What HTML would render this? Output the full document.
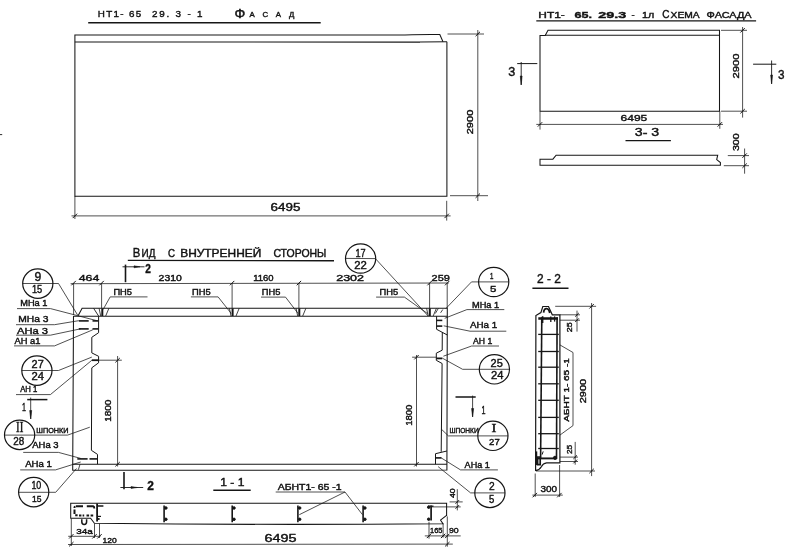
<!DOCTYPE html>
<html lang="ru"><head><meta charset="utf-8"><title>НТ1-65.29.3-1</title>
<style>
html,body{margin:0;padding:0;background:#fff;}
body{width:793px;height:552px;overflow:hidden;}
svg{display:block;filter:grayscale(1);}
svg line,svg path,svg circle,svg ellipse{stroke:#161616;stroke-linecap:butt;}
svg text{font-family:"Liberation Sans","DejaVu Sans",sans-serif;fill:#111;stroke:#111;stroke-width:0.4;}
.sc{font-variant:small-caps;}
.uc{text-transform:uppercase;}
svg text.sf{font-family:"Liberation Serif","DejaVu Serif",serif;}
</style></head><body>
<svg width="793" height="552" viewBox="0 0 793 552">
<rect x="0" y="0" width="793" height="552" fill="#ffffff" stroke="none"/>
<g id="facade">
<text x="97.8" y="16.9" font-size="9.8" textLength="43.4" lengthAdjust="spacing" >НТ1- 65</text>
<text x="152" y="16.9" font-size="9.8" textLength="50.5" lengthAdjust="spacing" >29. 3 - 1</text>
<text x="234.5" y="17.6" font-size="12" textLength="10.8" lengthAdjust="spacingAndGlyphs" >Ф</text>
<text x="249.6" y="16.8" font-size="7.8" textLength="44.8" lengthAdjust="spacing" class="uc">асад</text>
<line x1="88.2" y1="22.7" x2="320.7" y2="22.7" stroke-width="1.4"/>
<path d="M74.9 196.8 L74.9 34.9 L405 34.9 Q428 34.3 439.8 34.6 L443 41.7" stroke-width="1.05" fill="none" />
<path d="M74.9 42 L420 42.1 Q435 41.7 446.9 41.7" stroke-width="1.05" fill="none" />
<path d="M446.9 41.7 L446.9 196.3 L74.9 196.3" stroke-width="1.05" fill="none"/>
<line x1="74.9" y1="196.3" x2="74.9" y2="219" stroke-width="0.75"/>
<line x1="446.7" y1="200.8" x2="446.7" y2="220.6" stroke-width="0.75"/>
<line x1="71.5" y1="215.9" x2="450.6" y2="215.9" stroke-width="0.75"/>
<line x1="72.7" y1="218.1" x2="77.10000000000001" y2="213.70000000000002" stroke-width="1.0"/>
<line x1="444.5" y1="218.1" x2="448.9" y2="213.70000000000002" stroke-width="1.0"/>
<text x="270.6" y="211" font-size="10.4" textLength="29.8" lengthAdjust="spacingAndGlyphs" >6495</text>
<line x1="447.5" y1="34" x2="484" y2="34" stroke-width="0.75"/>
<line x1="450" y1="195.7" x2="488" y2="195.7" stroke-width="0.75"/>
<line x1="477.8" y1="30" x2="477.8" y2="201" stroke-width="0.75"/>
<line x1="475.6" y1="36.2" x2="480.0" y2="31.8" stroke-width="1.0"/>
<line x1="475.6" y1="197.89999999999998" x2="480.0" y2="193.5" stroke-width="1.0"/>
<text transform="translate(472.6 122) rotate(-90)" text-anchor="middle" font-size="8.8" textLength="24.6" lengthAdjust="spacingAndGlyphs">2900</text>
</g>
<g id="schema">
<text x="538.3" y="17.8" font-size="9.4" textLength="26.5" lengthAdjust="spacingAndGlyphs" >НТ1-</text>
<text x="574.5" y="17.8" font-size="9.6" textLength="17.5" lengthAdjust="spacingAndGlyphs" font-weight="bold" >65.</text>
<text x="598.3" y="17.8" font-size="9.6" textLength="28" lengthAdjust="spacingAndGlyphs" font-weight="bold" >29.3</text>
<text x="631.5" y="17.8" font-size="9.4" >-</text>
<text x="642" y="17.8" font-size="9.4" textLength="12.2" lengthAdjust="spacingAndGlyphs" >1л</text>
<text x="662.3" y="17.8" font-size="10" textLength="7.2" lengthAdjust="spacingAndGlyphs" >С</text>
<text x="670.6" y="17.8" font-size="8.8" textLength="29" lengthAdjust="spacingAndGlyphs" class="uc">хема</text>
<text x="706.6" y="17.8" font-size="8.8" textLength="45" lengthAdjust="spacingAndGlyphs" class="uc">фасада</text>
<line x1="536.3" y1="20.8" x2="756.1" y2="20.8" stroke-width="1.3"/>
<path d="M540 111.4 L540 35.6 L545.2 35.4 L548 30.3 L719.5 30.3 L719.5 111.2 L540 111.2" stroke-width="1.05" fill="none" />
<line x1="545" y1="35.3" x2="719.5" y2="35.3" stroke-width="1.05"/>
<line x1="517.2" y1="63.6" x2="537.3" y2="63.6" stroke-width="1.0"/>
<line x1="521.2" y1="62" x2="521.2" y2="84.7" stroke-width="0.9"/>
<path d="M520.3 76 L522.1 76 L521.2 85 Z" stroke-width="0.6" fill="#161616" />
<text x="508.3" y="76.3" font-size="12.2" textLength="7" lengthAdjust="spacingAndGlyphs" >3</text>
<line x1="753.1" y1="64.2" x2="776.3" y2="64.2" stroke-width="1.0"/>
<line x1="771.6" y1="60.5" x2="771.6" y2="83.7" stroke-width="0.9"/>
<path d="M770.7 75 L772.5 75 L771.6 84 Z" stroke-width="0.6" fill="#161616" />
<text x="778" y="78.7" font-size="12.6" textLength="6.5" lengthAdjust="spacingAndGlyphs" >3</text>
<line x1="540" y1="111.2" x2="540" y2="129.6" stroke-width="0.75"/>
<line x1="719.8" y1="111.2" x2="719.8" y2="128.8" stroke-width="0.75"/>
<line x1="536.3" y1="124.4" x2="723" y2="124.4" stroke-width="0.75"/>
<line x1="537.8" y1="126.60000000000001" x2="542.2" y2="122.2" stroke-width="1.0"/>
<line x1="717.5999999999999" y1="126.60000000000001" x2="722.0" y2="122.2" stroke-width="1.0"/>
<text x="620.5" y="121.1" font-size="9.2" textLength="26.8" lengthAdjust="spacingAndGlyphs" >6495</text>
<line x1="721" y1="30.3" x2="747" y2="30.3" stroke-width="0.75"/>
<line x1="721" y1="111.2" x2="747" y2="111.2" stroke-width="0.75"/>
<line x1="742.6" y1="27" x2="742.6" y2="117.6" stroke-width="0.75"/>
<line x1="740.4" y1="32.5" x2="744.8000000000001" y2="28.1" stroke-width="1.0"/>
<line x1="740.4" y1="113.4" x2="744.8000000000001" y2="109.0" stroke-width="1.0"/>
<text transform="translate(738.9 66) rotate(-90)" text-anchor="middle" font-size="9.6" textLength="25.2" lengthAdjust="spacingAndGlyphs">2900</text>
<text x="634.8" y="136.2" font-size="11.2" textLength="24.4" lengthAdjust="spacingAndGlyphs" >3- 3</text>
<line x1="625.5" y1="140.6" x2="670.9" y2="140.6" stroke-width="1.4"/>
<path d="M540 159.2 L552.9 159.2 L556.1 155.2 L717.7 155.2 L716.7 159.6 L720.4 162.6 L720.4 165.3 L540 165.3 Z" stroke-width="1.05" fill="none" />
<line x1="727.8" y1="155.6" x2="749" y2="155.6" stroke-width="0.75"/>
<line x1="723.8" y1="165.7" x2="749" y2="165.7" stroke-width="0.75"/>
<line x1="744.6" y1="148.5" x2="744.6" y2="173.7" stroke-width="0.75"/>
<line x1="742.4" y1="157.79999999999998" x2="746.8000000000001" y2="153.4" stroke-width="1.0"/>
<line x1="742.4" y1="167.89999999999998" x2="746.8000000000001" y2="163.5" stroke-width="1.0"/>
<text transform="translate(738.7 142.2) rotate(-90)" text-anchor="middle" font-size="9.2" textLength="17.6" lengthAdjust="spacingAndGlyphs">300</text>
</g>
<line x1="0" y1="134.6" x2="2.2" y2="134.6" stroke-width="0.9"/>
<g id="view">
<text x="132.7" y="257.2" font-size="12.8" textLength="7.6" lengthAdjust="spacingAndGlyphs" >В</text>
<text x="141.6" y="257.2" font-size="10.6" textLength="13.8" lengthAdjust="spacingAndGlyphs" class="uc">ид</text>
<text x="168.1" y="257.2" font-size="10.6" textLength="7" lengthAdjust="spacingAndGlyphs" class="uc">с</text>
<text x="180.2" y="257.2" font-size="10.6" textLength="81.1" lengthAdjust="spacingAndGlyphs" class="uc">внутренней</text>
<text x="273.4" y="257.2" font-size="10.6" textLength="53" lengthAdjust="spacingAndGlyphs" class="uc">стороны</text>
<line x1="127.8" y1="260.4" x2="334" y2="260.7" stroke-width="1.4"/>
<line x1="70.6" y1="283.7" x2="448.8" y2="283" stroke-width="0.75"/>
<line x1="71.39999999999999" y1="285.3" x2="75.8" y2="280.90000000000003" stroke-width="1.0"/>
<line x1="99.39999999999999" y1="285.3" x2="103.8" y2="280.90000000000003" stroke-width="1.0"/>
<line x1="229.9" y1="285.3" x2="234.29999999999998" y2="280.90000000000003" stroke-width="1.0"/>
<line x1="296.7" y1="285.3" x2="301.09999999999997" y2="280.90000000000003" stroke-width="1.0"/>
<line x1="427.40000000000003" y1="285.3" x2="431.8" y2="280.90000000000003" stroke-width="1.0"/>
<line x1="445.0" y1="285.3" x2="449.4" y2="280.90000000000003" stroke-width="1.0"/>
<line x1="73.6" y1="283.1" x2="73.6" y2="315" stroke-width="0.75"/>
<line x1="101.6" y1="283.1" x2="101.6" y2="308" stroke-width="0.75"/>
<line x1="232.1" y1="283.1" x2="232.1" y2="308" stroke-width="0.75"/>
<line x1="298.9" y1="283.1" x2="298.9" y2="308" stroke-width="0.75"/>
<line x1="429.6" y1="283.1" x2="429.6" y2="308" stroke-width="0.75"/>
<line x1="447.2" y1="283.1" x2="447.2" y2="308" stroke-width="0.75"/>
<text x="78.7" y="281.4" font-size="8.6" textLength="20.6" lengthAdjust="spacingAndGlyphs" >464</text>
<text x="158.6" y="280.8" font-size="8.6" textLength="23.2" lengthAdjust="spacingAndGlyphs" >2310</text>
<text x="253.2" y="281.3" font-size="8.6" textLength="20.4" lengthAdjust="spacingAndGlyphs" >1160</text>
<text x="336.2" y="281.2" font-size="8.6" textLength="27.8" lengthAdjust="spacingAndGlyphs" >2302</text>
<text x="431.6" y="281.0" font-size="8.6" textLength="18.2" lengthAdjust="spacingAndGlyphs" >259</text>
<path d="M78.1 315.8 L82.1 308.2 L447.3 308.2 L446.9 470.1 L72.7 470.2 L73.5 316" stroke-width="1.05" fill="none" />
<line x1="73.5" y1="316.2" x2="447.3" y2="316.2" stroke-width="1.05"/>
<line x1="72.8" y1="464.2" x2="446.9" y2="464.2" stroke-width="1.05"/>
<path d="M98.6 316.2 L98.6 332.7 L91.8 337.3 L91.8 352.9 L98.6 356.3 L98.6 362.8 L91.8 367.8 L91.4 450.3 L97.5 454.4 L97.5 464.2" stroke-width="1.0" fill="none" />
<line x1="80" y1="464.3" x2="78.4" y2="469.7" stroke-width="0.8"/>
<path d="M436.6 316.2 L436.6 329.3 L447.3 335" stroke-width="1.0" fill="none" />
<path d="M442.3 332.3 L442.2 350.2 L436.3 353.2 L436.3 360.3 L442.1 363.5 L441.2 451.8" stroke-width="1.0" fill="none" />
<path d="M446.9 451 L435.5 453.7 L435.5 464.2" stroke-width="1.0" fill="none" />
<line x1="78.8" y1="320.9" x2="88.7" y2="320.9" stroke-width="1.6"/>
<line x1="92.5" y1="320.9" x2="98.2" y2="320.9" stroke-width="1.6"/>
<line x1="78.8" y1="328.9" x2="88.7" y2="328.9" stroke-width="1.6"/>
<line x1="92.5" y1="328.9" x2="98.2" y2="328.9" stroke-width="1.6"/>
<line x1="91.8" y1="360.2" x2="98.8" y2="360.2" stroke-width="1.8"/>
<line x1="77.3" y1="458.9" x2="87.6" y2="458.9" stroke-width="1.6"/>
<line x1="89.5" y1="458.9" x2="97.3" y2="458.9" stroke-width="1.6"/>
<line x1="436.6" y1="320.4" x2="442.3" y2="320.4" stroke-width="1.6"/>
<line x1="436.6" y1="326.1" x2="442.3" y2="326.1" stroke-width="1.6"/>
<line x1="436.3" y1="358.4" x2="442.3" y2="358.4" stroke-width="1.8"/>
<line x1="435.5" y1="457.9" x2="441.4" y2="457.9" stroke-width="1.6"/>
<line x1="102.3" y1="308.3" x2="102.3" y2="316" stroke-width="2.0"/>
<line x1="99.1" y1="308.3" x2="100.7" y2="316" stroke-width="0.8"/>
<line x1="108.89999999999999" y1="308.3" x2="105.7" y2="316" stroke-width="0.8"/>
<line x1="232.6" y1="308.3" x2="232.6" y2="316" stroke-width="2.0"/>
<line x1="229.4" y1="308.3" x2="231.0" y2="316" stroke-width="0.8"/>
<line x1="239.2" y1="308.3" x2="236.0" y2="316" stroke-width="0.8"/>
<line x1="299.3" y1="308.3" x2="299.3" y2="316" stroke-width="2.0"/>
<line x1="296.1" y1="308.3" x2="297.7" y2="316" stroke-width="0.8"/>
<line x1="305.90000000000003" y1="308.3" x2="302.7" y2="316" stroke-width="0.8"/>
<line x1="429.8" y1="308.3" x2="429.8" y2="316" stroke-width="2.0"/>
<line x1="426.6" y1="308.3" x2="428.2" y2="316" stroke-width="0.8"/>
<line x1="436.40000000000003" y1="308.3" x2="433.2" y2="316" stroke-width="0.8"/>
<line x1="93.6" y1="308.3" x2="98.6" y2="316" stroke-width="0.9"/>
<line x1="438.4" y1="308.3" x2="435.3" y2="313.5" stroke-width="0.8"/>
<line x1="442.8" y1="309.5" x2="440.6" y2="312.8" stroke-width="0.8"/>
<text x="113.4" y="295.3" font-size="8.2" textLength="18.6" lengthAdjust="spacingAndGlyphs" >ПН5</text>
<text x="192" y="295.3" font-size="8.2" textLength="18.6" lengthAdjust="spacingAndGlyphs" >ПН5</text>
<text x="261.8" y="295.3" font-size="8.2" textLength="18.6" lengthAdjust="spacingAndGlyphs" >ПН5</text>
<text x="379.6" y="295.3" font-size="8.2" textLength="18.6" lengthAdjust="spacingAndGlyphs" >ПН5</text>
<path d="M147.5 296.9 L110.2 296.9 L103.1 309.5" stroke-width="0.75" fill="none" />
<path d="M190.9 296.9 L218.1 296.9 L231.2 313.4" stroke-width="0.75" fill="none" />
<path d="M261 297.1 L285.5 297.1 L298 313.4" stroke-width="0.75" fill="none" />
<path d="M376.1 297.1 L404.4 297.1 L427.6 313.6" stroke-width="0.75" fill="none" />
<line x1="98.8" y1="360.2" x2="121.8" y2="360.2" stroke-width="0.75"/>
<line x1="117.6" y1="356" x2="117.6" y2="466.5" stroke-width="0.75"/>
<line x1="115.39999999999999" y1="362.4" x2="119.8" y2="358.0" stroke-width="1.0"/>
<line x1="115.39999999999999" y1="466.4" x2="119.8" y2="462.0" stroke-width="1.0"/>
<text transform="translate(111 410.7) rotate(-90)" text-anchor="middle" font-size="8.8" textLength="22.2" lengthAdjust="spacingAndGlyphs">1800</text>
<line x1="412.1" y1="357.2" x2="436.3" y2="357.2" stroke-width="0.75"/>
<line x1="416.5" y1="355" x2="416.5" y2="466.5" stroke-width="0.75"/>
<line x1="414.3" y1="359.4" x2="418.7" y2="355.0" stroke-width="1.0"/>
<line x1="414.3" y1="466.4" x2="418.7" y2="462.0" stroke-width="1.0"/>
<text transform="translate(412.1 415.2) rotate(-90)" text-anchor="middle" font-size="8.8" textLength="21.2" lengthAdjust="spacingAndGlyphs">1800</text>
</g>
<g id="callouts">
<ellipse cx="37.8" cy="283.6" rx="15.1" ry="14.7" stroke-width="1.2" fill="none"/>
<text x="34.6" y="281.4" font-size="12.7" textLength="6.8" lengthAdjust="spacingAndGlyphs" >9</text>
<text x="31.9" y="293" font-size="10.3" textLength="10.3" lengthAdjust="spacingAndGlyphs" >15</text>
<path d="M22.7 283.5 L58.5 283.5 L77.7 315.2" stroke-width="0.75" fill="none" />
<ellipse cx="36.9" cy="370.6" rx="15.1" ry="14.7" stroke-width="1.2" fill="none"/>
<text x="31.6" y="367.9" font-size="10.6" textLength="12.1" lengthAdjust="spacingAndGlyphs" >27</text>
<text x="31.6" y="380.4" font-size="10.1" textLength="12.5" lengthAdjust="spacingAndGlyphs" >24</text>
<path d="M21.8 370.5 L58.5 370.5 L91.8 357.1" stroke-width="0.75" fill="none" />
<ellipse cx="19.6" cy="434.9" rx="15.1" ry="14.7" stroke-width="1.2" fill="none"/>
<text x="16.1" y="432.1" font-size="15.1" textLength="7.3" lengthAdjust="spacingAndGlyphs" class="sf">II</text>
<text x="13.3" y="445" font-size="11.2" textLength="11.0" lengthAdjust="spacingAndGlyphs" >28</text>
<path d="M4.4 435.1 L67.6 435.1 L89.8 427.2" stroke-width="0.75" fill="none" />
<ellipse cx="33.7" cy="492.1" rx="15.1" ry="14.7" stroke-width="1.2" fill="none"/>
<text x="31.4" y="488.9" font-size="10.6" textLength="9.9" lengthAdjust="spacingAndGlyphs" >10</text>
<text x="32.1" y="501.8" font-size="9.5" textLength="9.5" lengthAdjust="spacingAndGlyphs" >15</text>
<path d="M18.5 492.3 L55.7 492.3 L76.5 468.5" stroke-width="0.75" fill="none" />
<ellipse cx="360.6" cy="258.5" rx="15.1" ry="14.7" stroke-width="1.2" fill="none"/>
<text x="355.5" y="256.6" font-size="10.6" textLength="10.2" lengthAdjust="spacingAndGlyphs" >17</text>
<text x="354.3" y="268.8" font-size="10.1" textLength="12.6" lengthAdjust="spacingAndGlyphs" >22</text>
<path d="M345.5 258.4 L375.4 258.6 L428.2 316" stroke-width="0.75" fill="none" />
<ellipse cx="493.7" cy="282" rx="15.1" ry="14.7" stroke-width="1.2" fill="none"/>
<text x="489.9" y="279.1" font-size="9.1" textLength="3.4" lengthAdjust="spacingAndGlyphs" >1</text>
<text x="489.9" y="291.7" font-size="9.6" textLength="6.4" lengthAdjust="spacingAndGlyphs" >5</text>
<path d="M508.8 281.9 L471.5 281.9 L445.8 308.6" stroke-width="0.75" fill="none" />
<ellipse cx="494.4" cy="369.3" rx="15.1" ry="14.7" stroke-width="1.2" fill="none"/>
<text x="490.6" y="366.6" font-size="11.2" textLength="12.2" lengthAdjust="spacingAndGlyphs" >25</text>
<text x="491" y="379.2" font-size="10.6" textLength="12.5" lengthAdjust="spacingAndGlyphs" >24</text>
<path d="M509.5 369.3 L462.6 369.3 L442.4 358.2" stroke-width="0.75" fill="none" />
<ellipse cx="492.9" cy="435.8" rx="15.1" ry="14.7" stroke-width="1.2" fill="none"/>
<text x="491.6" y="432.1" font-size="11.6" textLength="4.9" lengthAdjust="spacingAndGlyphs" class="sf">I</text>
<text x="489.1" y="445" font-size="9.5" textLength="10.6" lengthAdjust="spacingAndGlyphs" >27</text>
<path d="M508 435.9 L448.4 435.9 L441.4 429.2" stroke-width="0.75" fill="none" />
<ellipse cx="489.9" cy="492.9" rx="15.1" ry="14.7" stroke-width="1.2" fill="none"/>
<text x="488.9" y="490.4" font-size="11.7" textLength="5.7" lengthAdjust="spacingAndGlyphs" >2</text>
<text x="488.9" y="502.6" font-size="10.2" textLength="5.3" lengthAdjust="spacingAndGlyphs" >5</text>
<path d="M505 492.9 L470.6 492.9 L438.1 466.6" stroke-width="0.75" fill="none" />
<text x="20.2" y="306.2" font-size="8.6" textLength="27.2" lengthAdjust="spacingAndGlyphs" >МНа 1</text>
<path d="M17 308.6 L50.5 308.6 L96.9 320.7" stroke-width="0.75" fill="none" />
<text x="18.2" y="322.3" font-size="8.6" textLength="30.2" lengthAdjust="spacingAndGlyphs" >МНа 3</text>
<path d="M16 324.7 L54.5 324.7 L78.7 320.7" stroke-width="0.75" fill="none" />
<text x="17" y="333.8" font-size="8.6" textLength="31" lengthAdjust="spacingAndGlyphs" >АНа 3</text>
<path d="M16 335.2 L50.4 335.2 L80.7 328.8" stroke-width="0.75" fill="none" />
<text x="14.5" y="343.9" font-size="8.6" textLength="25.9" lengthAdjust="spacingAndGlyphs" >АН а1</text>
<path d="M14 345.9 L54.5 345.9 L92.8 329.8" stroke-width="0.75" fill="none" />
<text x="20.2" y="392" font-size="8.2" textLength="17.1" lengthAdjust="spacingAndGlyphs" >АН 1</text>
<path d="M16 394.6 L50.4 394.6 L91.8 360.3" stroke-width="0.75" fill="none" />
<text x="36.3" y="432.6" font-size="7.4" textLength="32.3" lengthAdjust="spacingAndGlyphs" class="uc">шпонки</text>
<text x="32.3" y="448.3" font-size="8.2" textLength="26.2" lengthAdjust="spacingAndGlyphs" >АНа 3</text>
<path d="M23.2 452.4 L58.5 452.4 L80.7 458.4" stroke-width="0.75" fill="none" />
<text x="25.2" y="466.5" font-size="8.6" textLength="26.8" lengthAdjust="spacingAndGlyphs" >АНа 1</text>
<path d="M20.2 469.9 L55.5 469.9 L80.7 462" stroke-width="0.75" fill="none" />
<text x="472" y="307.6" font-size="8.6" textLength="27.2" lengthAdjust="spacingAndGlyphs" >МНа 1</text>
<path d="M504.3 309.6 L466.9 309.6 L444.7 318.3" stroke-width="0.75" fill="none" />
<text x="470" y="328.4" font-size="8.8" textLength="27.2" lengthAdjust="spacingAndGlyphs" >АНа 1</text>
<path d="M506.3 331.2 L470 331.2 L443.7 325.8" stroke-width="0.75" fill="none" />
<text x="473" y="343.9" font-size="8.4" textLength="19.2" lengthAdjust="spacingAndGlyphs" >АН 1</text>
<path d="M499 346 L471.6 346 L443.4 356.2" stroke-width="0.75" fill="none" />
<text x="449.4" y="433.4" font-size="7.4" textLength="29.3" lengthAdjust="spacingAndGlyphs" class="uc">шпонки</text>
<text x="464.6" y="467.5" font-size="8.6" textLength="25.2" lengthAdjust="spacingAndGlyphs" >АНа 1</text>
<path d="M497.9 469.9 L460.5 469.9 L440.4 457.4" stroke-width="0.75" fill="none" />
<line x1="125.5" y1="264.6" x2="125.5" y2="282.2" stroke-width="1.6"/>
<line x1="122.5" y1="266.8" x2="144.5" y2="266.8" stroke-width="0.9"/>
<path d="M134 265.8 L140 266.8 L134 267.8 Z" stroke-width="0.5" fill="#161616" />
<text x="145.2" y="272.7" font-size="12.5" textLength="5.6" lengthAdjust="spacingAndGlyphs" font-weight="bold" >2</text>
<line x1="124" y1="472" x2="124" y2="489.3" stroke-width="1.6"/>
<line x1="120.4" y1="487.5" x2="143.2" y2="487.5" stroke-width="0.9"/>
<path d="M131 486.5 L137.5 487.5 L131 488.5 Z" stroke-width="0.5" fill="#161616" />
<text x="147.3" y="489.7" font-size="12.5" textLength="6.6" lengthAdjust="spacingAndGlyphs" font-weight="bold" >2</text>
<line x1="27.2" y1="399.6" x2="47.4" y2="399.6" stroke-width="1.5"/>
<line x1="30.7" y1="397.6" x2="30.7" y2="418.8" stroke-width="0.8"/>
<path d="M29.7 410.5 L31.7 410.5 L30.7 419 Z" stroke-width="0.6" fill="#161616" />
<text x="22" y="410.7" font-size="11" textLength="4" lengthAdjust="spacingAndGlyphs" >1</text>
<line x1="455.5" y1="397" x2="475.7" y2="397" stroke-width="1.5"/>
<line x1="472.6" y1="395.6" x2="472.6" y2="416.8" stroke-width="0.8"/>
<path d="M471.6 408.5 L473.6 408.5 L472.6 417 Z" stroke-width="0.6" fill="#161616" />
<text x="481.4" y="413.7" font-size="11" textLength="4" lengthAdjust="spacingAndGlyphs" >1</text>
</g>
<g id="s11">
<text x="220.2" y="486.4" font-size="11" textLength="24.2" lengthAdjust="spacingAndGlyphs" >1 - 1</text>
<line x1="213.3" y1="490.3" x2="250.7" y2="490.3" stroke-width="1.5"/>
<text x="277.7" y="489.7" font-size="8.2" textLength="63.8" lengthAdjust="spacingAndGlyphs" >АБНТ1- 65 -1</text>
<path d="M275.7 492 L345 492 L299.3 514.7" stroke-width="0.75" fill="none" />
<line x1="345" y1="492" x2="362.5" y2="514.7" stroke-width="0.75"/>
<path d="M446.6 516 L446.6 503.3 L70.7 503.3 L70.7 518.3 L90.6 518.3 L94.4 523.2 Q270 525.3 443 523.7 L440.5 520 L446.6 515.4" stroke-width="1.05" fill="none" />
<path d="M75.5 506.4 Q74.4 506.6 74.4 508 M76 506.3 h7 M86.8 506.3 h6.4 Q94.3 506.5 94.3 508.4 M74.5 509.5 v4.6 M75.2 515.2 h2.4 M79 515.4 h2.4 M82.6 515.4 h1.6 M86.5 515.4 h2.6 M90.6 515.4 h2.6" stroke-width="2.0" fill="none" />
<path d="M81.8 519.3 v2.5 a2.4 2.6 0 0 0 4.8 0 v-2.5" stroke-width="1.5" fill="none" />
<line x1="97.1" y1="503.4" x2="97.1" y2="521.4" stroke-width="1.8"/>
<line x1="97.1" y1="506" x2="103.4" y2="506" stroke-width="1.5"/>
<line x1="97.1" y1="516.4" x2="101" y2="516.4" stroke-width="1.2"/>
<line x1="97.1" y1="519" x2="99.6" y2="519" stroke-width="1.8"/>
<line x1="164.1" y1="505.5" x2="164.1" y2="522.3" stroke-width="1.6"/>
<circle cx="165.9" cy="508" r="1.25" fill="#161616" stroke="none"/>
<circle cx="165.9" cy="519.3" r="1.25" fill="#161616" stroke="none"/>
<line x1="232.2" y1="505.5" x2="232.2" y2="522.3" stroke-width="1.6"/>
<circle cx="234.0" cy="508" r="1.25" fill="#161616" stroke="none"/>
<circle cx="234.0" cy="519.3" r="1.25" fill="#161616" stroke="none"/>
<line x1="297.9" y1="505.5" x2="297.9" y2="522.3" stroke-width="1.6"/>
<circle cx="299.7" cy="508" r="1.25" fill="#161616" stroke="none"/>
<circle cx="299.7" cy="519.3" r="1.25" fill="#161616" stroke="none"/>
<line x1="363.1" y1="505.5" x2="363.1" y2="522.3" stroke-width="1.6"/>
<circle cx="364.90000000000003" cy="508" r="1.25" fill="#161616" stroke="none"/>
<circle cx="364.90000000000003" cy="519.3" r="1.25" fill="#161616" stroke="none"/>
<line x1="431.1" y1="505.6" x2="431.1" y2="520.6" stroke-width="1.7"/>
<line x1="428" y1="506.2" x2="433.5" y2="506.2" stroke-width="1.3"/>
<circle cx="428.7" cy="507.2" r="1.25" fill="#161616" stroke="none"/>
<circle cx="428.7" cy="519.2" r="1.25" fill="#161616" stroke="none"/>
<line x1="71.3" y1="518.5" x2="71.3" y2="546" stroke-width="0.75"/>
<line x1="94.5" y1="523.6" x2="94.5" y2="538" stroke-width="0.75"/>
<line x1="99.5" y1="523.6" x2="99.5" y2="538" stroke-width="0.75"/>
<line x1="68.2" y1="536.3" x2="100.5" y2="536.3" stroke-width="0.75"/>
<line x1="69.1" y1="538.5" x2="73.5" y2="534.0999999999999" stroke-width="1.0"/>
<line x1="92.3" y1="538.5" x2="96.7" y2="534.0999999999999" stroke-width="1.0"/>
<line x1="97.3" y1="538.5" x2="101.7" y2="534.0999999999999" stroke-width="1.0"/>
<text x="76.3" y="534.2" font-size="8" textLength="16.6" lengthAdjust="spacingAndGlyphs" >34а</text>
<text x="102.5" y="542.7" font-size="7.6" textLength="14.2" lengthAdjust="spacingAndGlyphs" >120</text>
<line x1="68" y1="544.5" x2="452.8" y2="544.1" stroke-width="0.75"/>
<line x1="69.1" y1="546.4000000000001" x2="73.5" y2="542.0" stroke-width="1.0"/>
<line x1="445.1" y1="546.4000000000001" x2="449.5" y2="542.0" stroke-width="1.0"/>
<text x="264.6" y="541.9" font-size="10" textLength="31.9" lengthAdjust="spacingAndGlyphs" >6495</text>
<line x1="429" y1="521.8" x2="429" y2="538.7" stroke-width="0.75"/>
<line x1="443.1" y1="523.6" x2="443.1" y2="537.6" stroke-width="0.75"/>
<line x1="447.3" y1="516.4" x2="447.3" y2="546.7" stroke-width="0.75"/>
<line x1="424.8" y1="535.9" x2="460.7" y2="535.9" stroke-width="0.75"/>
<line x1="426.8" y1="538.1" x2="431.2" y2="533.6999999999999" stroke-width="1.0"/>
<line x1="440.90000000000003" y1="538.1" x2="445.3" y2="533.6999999999999" stroke-width="1.0"/>
<line x1="445.1" y1="538.1" x2="449.5" y2="533.6999999999999" stroke-width="1.0"/>
<text x="430" y="533.3" font-size="7.8" textLength="12.4" lengthAdjust="spacingAndGlyphs" >165</text>
<text x="449" y="533.3" font-size="8" textLength="9.7" lengthAdjust="spacingAndGlyphs" >90</text>
<line x1="449.6" y1="501.9" x2="462.7" y2="501.9" stroke-width="0.75"/>
<line x1="431" y1="506.9" x2="460.7" y2="506.9" stroke-width="0.75"/>
<line x1="457.3" y1="489.2" x2="457.3" y2="510.4" stroke-width="0.75"/>
<line x1="455.5" y1="503.7" x2="459.1" y2="500.09999999999997" stroke-width="1.0"/>
<line x1="455.5" y1="508.7" x2="459.1" y2="505.09999999999997" stroke-width="1.0"/>
<text transform="translate(454.6 493.2) rotate(-90)" text-anchor="middle" font-size="8" textLength="9.6" lengthAdjust="spacingAndGlyphs">40</text>
</g>
<g id="s22">
<text x="537.1" y="283.1" font-size="12" textLength="23.8" lengthAdjust="spacingAndGlyphs" >2 - 2</text>
<line x1="532.4" y1="288.2" x2="568.5" y2="288.2" stroke-width="1.5"/>
<path d="M535.6 471 L535.9 315.6 L540.9 312.6 L542.8 306.5 L548.5 306.5 L552.3 314.8 L559.9 314.8 L559.9 462.8 L546.6 462.8 Q543 463.2 541.5 466.5 Q539.6 470 535.6 470.6" stroke-width="1.2" fill="none" />
<path d="M543.6 312.6 Q544 308.4 546.6 308.6 Q549 308.9 549.8 313" stroke-width="1.8" fill="none" />
<line x1="541.8" y1="317.3" x2="540.6" y2="459" stroke-width="1.6"/>
<line x1="557.1" y1="317.3" x2="556.5" y2="459" stroke-width="1.6"/>
<line x1="538.3" y1="318.5" x2="557.9" y2="318.5" stroke-width="2.5"/>
<line x1="542.6" y1="316.2" x2="542.6" y2="323" stroke-width="1.6"/>
<line x1="550.8" y1="316.4" x2="550.8" y2="322" stroke-width="1.3"/>
<line x1="554.6" y1="316.4" x2="554.6" y2="321.6" stroke-width="1.3"/>
<line x1="538.2" y1="334.4" x2="558.8" y2="334.4" stroke-width="1.3"/>
<line x1="538.2" y1="351.5" x2="558.8" y2="351.5" stroke-width="1.3"/>
<line x1="538.2" y1="367.2" x2="558.8" y2="367.2" stroke-width="1.3"/>
<line x1="538.2" y1="383.8" x2="558.8" y2="383.8" stroke-width="1.3"/>
<line x1="538.2" y1="400.3" x2="558.8" y2="400.3" stroke-width="1.3"/>
<line x1="538.2" y1="417.4" x2="558.8" y2="417.4" stroke-width="1.3"/>
<line x1="538.2" y1="433.7" x2="558.8" y2="433.7" stroke-width="1.3"/>
<line x1="538.2" y1="448.5" x2="558.8" y2="448.5" stroke-width="1.3"/>
<line x1="538" y1="458.4" x2="557" y2="458.4" stroke-width="1.9"/>
<path d="M537.6 457 h2.6 v7.6 h-2.6 Z" stroke-width="1.7" fill="none" />
<circle cx="555" cy="457.8" r="1.6" fill="#161616" stroke="none"/>
<line x1="536.3" y1="451.4" x2="536.3" y2="465" stroke-width="1.9"/>
<line x1="543.2" y1="451.4" x2="542.1" y2="454.6" stroke-width="1.0"/>
<path d="M559.9 344.9 L573 352.5 L573 425.6 L559.9 435.1" stroke-width="0.75" fill="none" />
<text transform="translate(569 390) rotate(-90)" text-anchor="middle" font-size="7.8" textLength="63.5" lengthAdjust="spacingAndGlyphs">АБНТ 1- 65 -1</text>
<line x1="555.2" y1="306.3" x2="596.1" y2="306.3" stroke-width="0.75"/>
<line x1="536" y1="471" x2="595" y2="471" stroke-width="0.75"/>
<line x1="591.6" y1="303" x2="591.6" y2="476.1" stroke-width="0.75"/>
<line x1="589.4" y1="308.5" x2="593.8000000000001" y2="304.1" stroke-width="1.0"/>
<line x1="589.4" y1="473.2" x2="593.8000000000001" y2="468.8" stroke-width="1.0"/>
<text transform="translate(586.2 391.1) rotate(-90)" text-anchor="middle" font-size="8.6" textLength="24.4" lengthAdjust="spacingAndGlyphs">2900</text>
<line x1="559.9" y1="314.8" x2="580" y2="314.8" stroke-width="0.75"/>
<line x1="559.9" y1="320.2" x2="580" y2="320.2" stroke-width="0.75"/>
<line x1="577" y1="310.6" x2="577" y2="331.6" stroke-width="0.75"/>
<line x1="575.2" y1="316.6" x2="578.8" y2="313.0" stroke-width="1.0"/>
<line x1="575.2" y1="322.0" x2="578.8" y2="318.4" stroke-width="1.0"/>
<text transform="translate(572.4 327.2) rotate(-90)" text-anchor="middle" font-size="8" textLength="9.9" lengthAdjust="spacingAndGlyphs">25</text>
<line x1="559.9" y1="457.1" x2="578" y2="457.1" stroke-width="0.75"/>
<line x1="559.9" y1="461.5" x2="578" y2="461.5" stroke-width="0.75"/>
<line x1="575.2" y1="441.9" x2="575.2" y2="464.7" stroke-width="0.75"/>
<line x1="573.4000000000001" y1="458.90000000000003" x2="577.0" y2="455.3" stroke-width="1.0"/>
<line x1="573.4000000000001" y1="463.3" x2="577.0" y2="459.7" stroke-width="1.0"/>
<text transform="translate(571.6 449.5) rotate(-90)" text-anchor="middle" font-size="8" textLength="9.2" lengthAdjust="spacingAndGlyphs">25</text>
<line x1="535.2" y1="473.5" x2="535.2" y2="497" stroke-width="0.75"/>
<line x1="559.6" y1="465" x2="559.6" y2="497" stroke-width="0.75"/>
<line x1="532.4" y1="495.1" x2="562.8" y2="495.1" stroke-width="0.75"/>
<line x1="532.5999999999999" y1="497.3" x2="537.0" y2="492.90000000000003" stroke-width="1.0"/>
<line x1="557.1999999999999" y1="497.3" x2="561.6" y2="492.90000000000003" stroke-width="1.0"/>
<text x="540.5" y="491.9" font-size="8.8" textLength="16.6" lengthAdjust="spacingAndGlyphs" >300</text>
</g>
</svg>
</body></html>
